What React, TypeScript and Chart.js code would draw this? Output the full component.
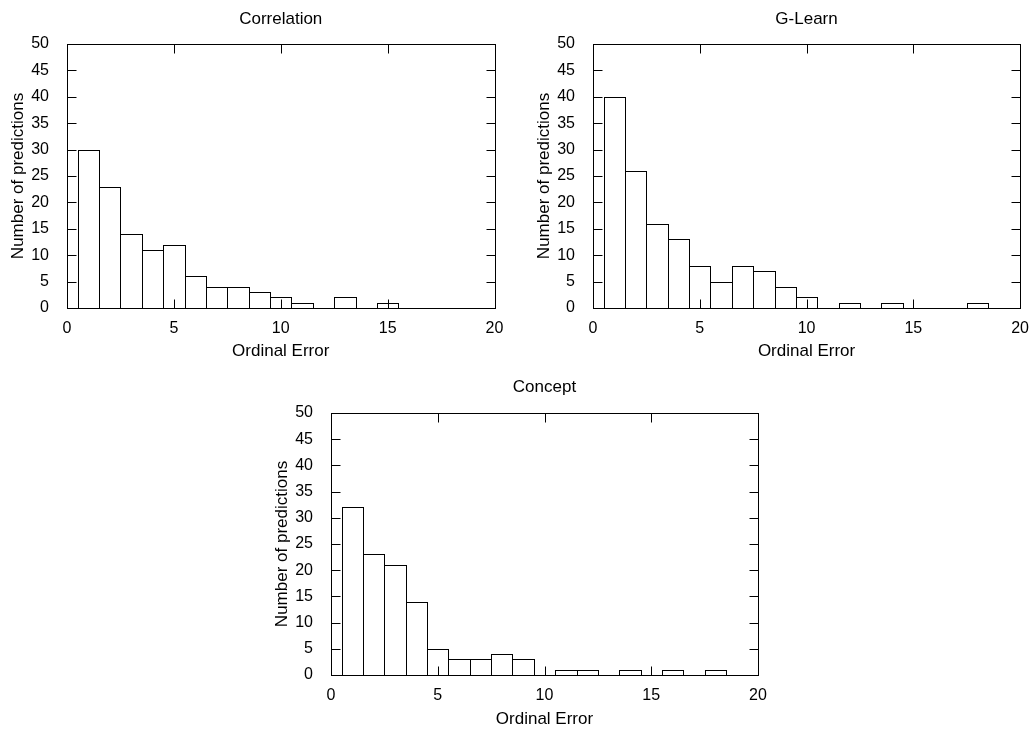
import React, { useEffect, useRef } from "react";
import { Chart, registerables } from "chart.js";

Chart.register(...registerables);

const bins = [1, 2, 3, 4, 5, 6, 7, 8, 9, 10, 11, 12, 13, 14, 15, 16, 17, 18];
const correlation = [30, 23, 14, 11, 12, 6, 4, 4, 3, 2, 1, 0, 2, 0, 1, 0, 0, 0];
const gLearn = [40, 26, 16, 13, 8, 5, 8, 7, 4, 2, 0, 1, 0, 1, 0, 0, 0, 1];
const concept = [32, 23, 21, 14, 5, 3, 3, 4, 3, 0, 1, 1, 0, 1, 0, 1, 0, 1];

const xTitle = "Ordinal Error";
const yTitle = "Number of predictions";
const FONT = "'Liberation Sans', Arial, Helvetica, sans-serif";

const framePlugin = {
  id: "gnuFrame",
  afterDatasetsDraw(chart: any) {
    const ctx = chart.ctx;
    const { left, right, top, bottom } = chart.chartArea;
    const r = (v: number) => Math.round(v) + 0.5;
    ctx.save();
    ctx.strokeStyle = "#000";
    ctx.lineWidth = 1;
    const meta = chart.getDatasetMeta(0);
    meta.data.forEach((el: any) => {
      const p = el.getProps(["x", "y", "base", "width"], true);
      if (Math.abs(p.base - p.y) < 0.5) return;
      const x0 = r(p.x - p.width / 2);
      const x1 = r(p.x + p.width / 2);
      const y0 = r(p.y);
      const y1 = r(p.base);
      ctx.strokeRect(x0, y0, x1 - x0, y1 - y0);
    });
    const L = r(left), R = r(right), T = r(top), B = r(bottom);
    ctx.strokeRect(L, T, R - L, B - T);
    const tl = 9;
    const line = (a: number, b: number, c: number, d: number) => {
      ctx.beginPath();
      ctx.moveTo(a, b);
      ctx.lineTo(c, d);
      ctx.stroke();
    };
    const xs = chart.scales.x;
    const ys = chart.scales.y;
    xs.ticks.forEach((t: any) => {
      const px = r(xs.getPixelForValue(t.value));
      line(px, B, px, B - tl);
      line(px, T, px, T + tl);
    });
    ys.ticks.forEach((t: any) => {
      const py = r(ys.getPixelForValue(t.value));
      line(L, py, L + tl, py);
      line(R, py, R - tl, py);
    });
    ctx.restore();
  },
};

type PanelProps = {
  title: string;
  values: number[];
  left: number;
  top: number;
  width: number;
  height: number;
  padRight: number;
  xAxisHeight: number;
  titlePadTop: number;
  titlePadBottom: number;
  xTitlePadBottom: number;
};

function Panel(props: PanelProps) {
  const ref = useRef<HTMLCanvasElement | null>(null);
  useEffect(() => {
    if (!ref.current) return;
    const tickFont = { family: FONT, size: 16 };
    const labelFont = { family: FONT, size: 17 };
    const chart = new Chart(ref.current, {
      type: "bar",
      data: {
        datasets: [
          {
            data: bins.map((b, i) => ({ x: b, y: props.values[i] })),
            backgroundColor: "#ffffff",
            borderWidth: 0,
            barPercentage: 1,
            categoryPercentage: 1,
          },
        ],
      },
      options: {
        animation: false,
        responsive: false,
        devicePixelRatio: 1,
        events: [],
        layout: { padding: { left: 0, right: props.padRight, top: 0, bottom: 0 } },
        plugins: {
          legend: { display: false },
          tooltip: { enabled: false },
          title: {
            display: true,
            text: props.title,
            color: "#000",
            fullSize: false,
            font: { ...labelFont, weight: "normal" },
            padding: { top: props.titlePadTop, bottom: props.titlePadBottom },
          },
        },
        scales: {
          x: {
            type: "linear",
            min: 0,
            max: 20,
            offset: false,
            grid: { display: false, offset: false },
            border: { display: false },
            ticks: { stepSize: 5, padding: 3, color: "#000", font: tickFont, maxRotation: 0 },
            title: {
              display: true,
              text: xTitle,
              color: "#000",
              font: labelFont,
              padding: { top: 0, bottom: props.xTitlePadBottom },
            },
            afterFit: (s: any) => {
              s.height = props.xAxisHeight;
            },
          },
          y: {
            type: "linear",
            min: 0,
            max: 50,
            grid: { display: false },
            border: { display: false },
            ticks: { stepSize: 5, padding: 10, color: "#000", font: tickFont },
            title: {
              display: true,
              text: yTitle,
              color: "#000",
              font: labelFont,
              padding: { top: 7.8, bottom: 0 },
            },
            afterFit: (s: any) => {
              s.width = 67;
            },
          },
        },
      } as any,
      plugins: [framePlugin],
    });
    return () => chart.destroy();
  }, []);
  return (
    <canvas
      ref={ref}
      width={props.width}
      height={props.height}
      style={{
        position: "absolute",
        left: props.left,
        top: props.top,
        width: props.width,
        height: props.height,
      }}
    />
  );
}

export default function App() {
  return (
    <div
      style={{
        position: "absolute",
        left: 0,
        top: 0,
        width: 1032,
        height: 733,
        background: "#fff",
        overflow: "hidden",
      }}
    >
      <Panel
        title="Correlation"
        values={correlation}
        left={0}
        top={0}
        width={520}
        height={370}
        padRight={25.5}
        xAxisHeight={62}
        titlePadTop={8.8}
        titlePadBottom={14.8}
        xTitlePadBottom={8.8}
      />
      <Panel
        title="G-Learn"
        values={gLearn}
        left={526}
        top={0}
        width={506}
        height={370}
        padRight={11}
        xAxisHeight={62}
        titlePadTop={8.8}
        titlePadBottom={14.8}
        xTitlePadBottom={8.8}
      />
      <Panel
        title="Concept"
        values={concept}
        left={264}
        top={369}
        width={520}
        height={364}
        padRight={26}
        xAxisHeight={58}
        titlePadTop={7.8}
        titlePadBottom={15.8}
        xTitlePadBottom={3.8}
      />
    </div>
  );
}
